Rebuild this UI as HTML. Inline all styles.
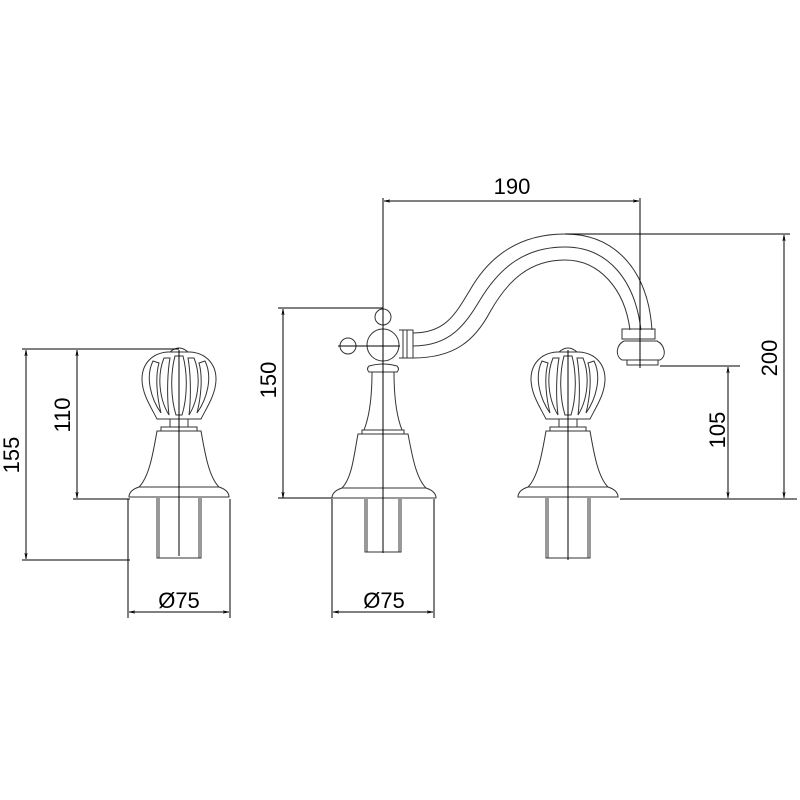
<!DOCTYPE html>
<html><head><style>body{margin:0;background:#fff}svg{display:block}</style></head><body>
<svg width="800" height="800" viewBox="0 0 800 800" xmlns="http://www.w3.org/2000/svg">
<defs>
<marker id="a" viewBox="0 0 10 10" refX="10" refY="5" markerWidth="6" markerHeight="6" orient="auto-start-reverse"><path d="M0,3 L10,5 L0,7" fill="none" stroke="#000" stroke-width="1"/></marker>
<g id="valve" fill="none" stroke="#333" stroke-width="1">
<path d="M-9,353 Q0,345 9,353 Z"/>
<path d="M-11,353 C-28,354 -37,366 -37,380 C-37,395 -28,408 -22,420 L22,420 C28,408 37,395 37,380 C37,366 28,354 11,353 Z"/>
<path d="M-26,362 C-34,378 -28,400 -18,414 C-22,398 -24,378 -20,364 Z"/>
<path d="M26,362 C34,378 28,400 18,414 C22,398 24,378 20,364 Z"/>
<path d="M-15,359 C-22,376 -20,400 -10,416 C-12,400 -12,376 -9,359 Z"/>
<path d="M15,359 C22,376 20,400 10,416 C12,400 12,376 9,359 Z"/>
<path d="M-4,357 C-9,376 -8,400 -3,416 H3 C8,400 9,376 4,357 Z"/>
<path d="M-9,420 V428 M9,420 V428 M-18,428 H18 V432 H-18 Z"/>
<path d="M-22,432 H22 C26,455 30,478 40,488 C46,490 50,493 50,498 H-50 C-50,493 -46,490 -40,488 C-30,478 -26,455 -22,432 Z"/>
<path d="M-40,488 H40"/>
<path d="M-22,499 V559 H22 V499 M-20,499 V559 M20,499 V559"/>
</g>
</defs>
<use href="#valve" transform="translate(179,-1)"/>
<use href="#valve" transform="translate(568,-1)"/>
<g fill="none" stroke="#333" stroke-width="1">
<circle cx="383" cy="317" r="8"/>
<circle cx="383" cy="345" r="16"/>
<circle cx="348" cy="346" r="8"/>
<path d="M399,330 H413 V358 H399 M403,330 V358 M407,330 V358"/>
<path d="M369,366 Q383,362 397,366 Q400,369 397,372 H369 Q366,369 369,366 Z"/>
<path d="M372,372 C372,395 370,415 364,430 M394,372 C394,395 396,415 402,430 M362,430 H404 V434 H362 Z"/>
<path d="M358,434 H408 C412,455 416,478 426,488 C432,490 436,493 436,498 H332 C332,493 336,490 342,488 C352,478 354,455 358,434 Z M342,488 H426"/>
<path d="M365,499 V552 H401 V499 M367,499 V552 M399,499 V552"/>
<path d="M413,333 C445,333 455,315 470,290 C490,255 520,234 565,234 C615,234 648,270 652,330"/>
<path d="M413,346 C450,346 465,325 480,300 C500,267 525,247 565,247 C608,247 635,280 641,330"/>
<path d="M413,358 C455,358 475,340 490,312 C508,280 530,260 565,260 C600,260 625,290 630,330"/>
<path d="M622,329 H655 V339 H622 Z M624,341 H657 C665,345 667,356 660,360 H622 C615,356 616,345 624,341 Z M627,360 V365 H658 V360"/>
</g>
<g stroke="#000" stroke-width="1" fill="none">
<path d="M179,350 V556 M568,350 V560 M383,198 V553 M640,198 V368 M338,346 H400"/>
<path d="M22,349 H179 M22,560 H130 M73,499 H130 M128,499 V618 M230,499 V618 M332,499 V618 M434,499 V618 M278,308 H383 M565,234 H790 M620,499 H797 M660,366 H740"/>
<path d="M26,350 V559" marker-start="url(#a)" marker-end="url(#a)"/>
<path d="M77,350 V498" marker-start="url(#a)" marker-end="url(#a)"/>
<path d="M129,612 H229" marker-start="url(#a)" marker-end="url(#a)"/>
<path d="M333,612 H433" marker-start="url(#a)" marker-end="url(#a)"/>
<path d="M283,309 V498" marker-start="url(#a)" marker-end="url(#a)"/>
<path d="M384,201 H639" marker-start="url(#a)" marker-end="url(#a)"/>
<path d="M728,367 V498" marker-start="url(#a)" marker-end="url(#a)"/>
<path d="M784,235 V498" marker-start="url(#a)" marker-end="url(#a)"/>
<path d="M278,498 H332"/>
</g>
<g font-family="Liberation Sans, sans-serif" font-size="22" fill="#000" text-anchor="middle">
<text x="179" y="608">Ø75</text>
<text x="384" y="608">Ø75</text>
<text x="512" y="194">190</text>
<text transform="translate(19,455) rotate(-90)">155</text>
<text transform="translate(70,415) rotate(-90)">110</text>
<text transform="translate(276,380) rotate(-90)">150</text>
<text transform="translate(725,430) rotate(-90)">105</text>
<text transform="translate(777,358) rotate(-90)">200</text>
</g>
</svg>
</body></html>
